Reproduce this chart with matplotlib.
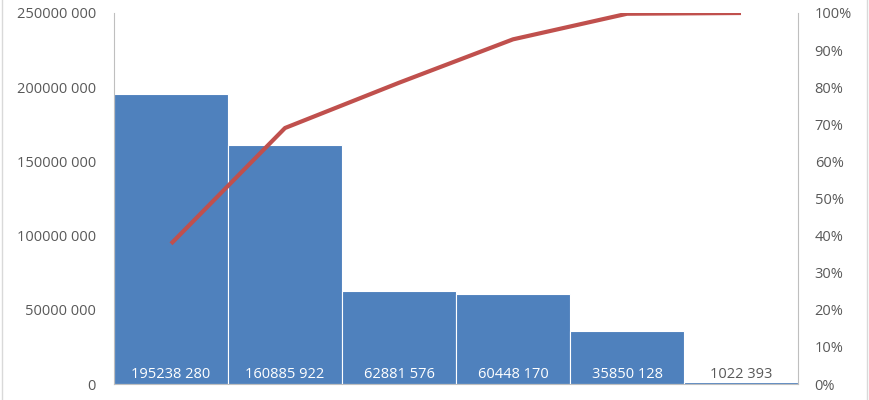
import matplotlib
matplotlib.use("Agg")
import matplotlib.pyplot as plt
from matplotlib.lines import Line2D
from matplotlib.ticker import FuncFormatter, MultipleLocator

# values
categories = ["1", "2", "3", "4", "5", "6"]
amounts = [195238280, 160885922, 62881576, 60448170, 35850128, 1022393]
cum_share = [37.8, 69.0, 81.2, 92.9, 99.8, 100.0]

bar_color = "#4F81BD"
line_color = "#C0504D"
text_color = "#595959"
axis_color = "#BFBFBF"

plt.rcParams["font.family"] = ["Open Sans", "DejaVu Sans"]


def grouped(v, pos=None):
    v = int(round(v))
    if v < 1000:
        return str(v)
    return f"{v // 1000} {v % 1000:03d}"


fig = plt.figure(figsize=(8.7, 4), dpi=100)
ax = fig.add_axes([114 / 870, 16 / 400, (798 - 114) / 870, (384 - 13) / 400])

x = list(range(len(categories)))
ax.bar(x, amounts, width=1.0, color=bar_color, edgecolor="white", linewidth=0.8)
ax.set_xlim(-0.5, len(categories) - 0.5)
ax.set_ylim(0, 250000000)
ax.yaxis.set_major_locator(MultipleLocator(50000000))
ax.yaxis.set_major_formatter(FuncFormatter(grouped))
ax.set_xticks([])

for i, v in enumerate(amounts):
    tc = "white" if v > 10000000 else text_color
    ax.text(i, 1500000, grouped(v), ha="center", va="bottom", color=tc, fontsize=10.5)

ax2 = ax.twinx()
ax2.plot(x, cum_share, color=line_color, linewidth=3.0, solid_capstyle="butt")
ax2.set_ylim(0, 100)
ax2.yaxis.set_major_locator(MultipleLocator(10))
ax2.yaxis.set_major_formatter(FuncFormatter(lambda v, p: f"{int(v)}%"))

for a in (ax, ax2):
    for s in a.spines.values():
        s.set_visible(False)
    a.tick_params(length=0, labelsize=10.5, labelcolor=text_color)
ax.spines["left"].set_visible(True)
ax.spines["left"].set_color(axis_color)
ax.spines["bottom"].set_visible(True)
ax.spines["bottom"].set_color(axis_color)
ax2.spines["right"].set_visible(True)
ax2.spines["right"].set_color(axis_color)
ax.tick_params(axis="y", pad=13)
ax2.tick_params(axis="y", pad=12)

# light frame edges of the chart area
for fx in (2.5 / 870, 867.5 / 870):
    fig.add_artist(Line2D([fx, fx], [0, 1], transform=fig.transFigure,
                          color="#D9D9D9", linewidth=1))

fig.savefig("out.png", dpi=100)
